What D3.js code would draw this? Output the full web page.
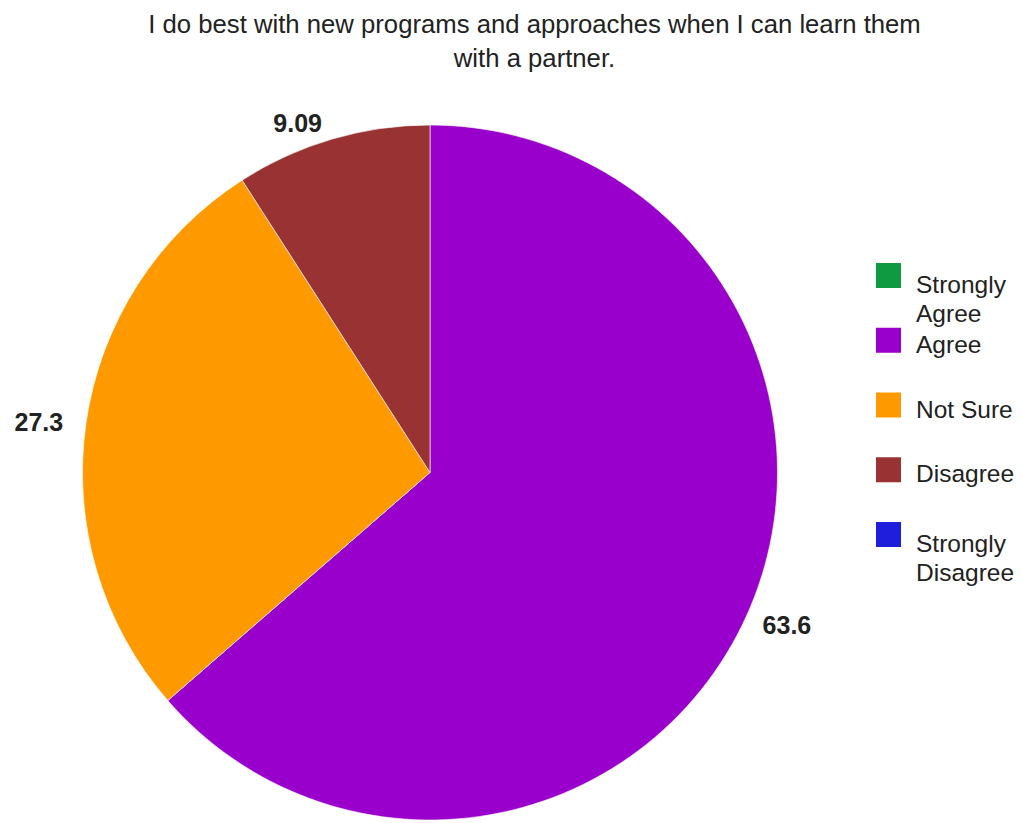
<!DOCTYPE html>
<html>
<head>
<meta charset="utf-8">
<script src="https://cdn.jsdelivr.net/npm/d3@7/dist/d3.min.js"></script>
<style>
  html, body { margin: 0; padding: 0; background: #ffffff; }
  svg { display: block; font-family: Arial, "Liberation Sans", Helvetica, sans-serif; }
</style>
</head>
<body>
<svg id="chart" width="1022" height="823"></svg>
<script>
// Survey responses (percent of respondents)
const categories = ["Strongly Agree", "Agree", "Not Sure", "Disagree", "Strongly Disagree"];
const values = [0, 63.6, 27.3, 9.09, 0];
const valueLabels = ["0", "63.6", "27.3", "9.09", "0"];
const colors = ["#0f9a42", "#9900cc", "#ff9900", "#993333", "#1f1fdb"];
const legendLines = [["Strongly", "Agree"], ["Agree"], ["Not Sure"], ["Disagree"], ["Strongly", "Disagree"]];
const titleLines = ["I do best with new programs and approaches when I can learn them", "with a partner."];

const svg = d3.select("#chart");
const cx = 430, cy = 472.5, radius = 347.5;

// Title
svg.append("g").selectAll("text")
  .data(titleLines)
  .join("text")
  .attr("x", 534.5)
  .attr("y", (d, i) => 33 + i * 34)
  .attr("text-anchor", "middle")
  .attr("font-size", 25.7)
  .attr("fill", "#222")
  .text(d => d);

const data = categories.map((c, i) => ({ category: c, value: values[i], label: valueLabels[i], color: colors[i] }));

const pie = d3.pie().value(d => d.value).sort(null);
const arcs = pie(data);
const arc = d3.arc().innerRadius(0).outerRadius(radius);
const labelArc = d3.arc().innerRadius(radius + 18).outerRadius(radius + 18);

const g = svg.append("g").attr("transform", `translate(${cx},${cy})`);

g.selectAll("path")
  .data(arcs.filter(d => d.data.value > 0))
  .join("path")
  .attr("d", arc)
  .attr("fill", d => d.data.color)
  .attr("stroke", "#ffffff")
  .attr("stroke-width", 0.6);

// Value labels just outside each slice
g.selectAll("text.value")
  .data(arcs.filter(d => d.data.value > 0))
  .join("text")
  .attr("class", "value")
  .each(function (d) {
    const [x, y] = labelArc.centroid(d);
    const mid = (d.startAngle + d.endAngle) / 2;
    const right = Math.sin(mid) >= 0;
    d3.select(this)
      .attr("x", right ? x : x - 5)
      .attr("y", y + 1)
      .attr("text-anchor", right ? "start" : "end");
  })
  .attr("dominant-baseline", "central")
  .attr("font-size", 25)
  .attr("font-weight", "bold")
  .attr("fill", "#222")
  .text(d => d.data.label);

// Legend
const legend = svg.append("g").attr("transform", "translate(876,263)");
const rowStep = 64.75;
const item = legend.selectAll("g")
  .data(data)
  .join("g")
  .attr("transform", (d, i) => `translate(0,${i * rowStep})`);

item.append("rect")
  .attr("width", 25)
  .attr("height", 25)
  .attr("fill", d => d.color);

item.append("text")
  .attr("x", 40)
  .attr("font-size", 24.5)
  .attr("fill", "#222")
  .each(function (d, i) {
    const lines = legendLines[i];
    const t = d3.select(this);
    const first = lines.length > 1 ? 30 : 25;
    lines.forEach((ln, j) => {
      t.append("tspan").attr("x", 40).attr("y", first + j * 28.5).text(ln);
    });
  });
</script>
</body>
</html>
